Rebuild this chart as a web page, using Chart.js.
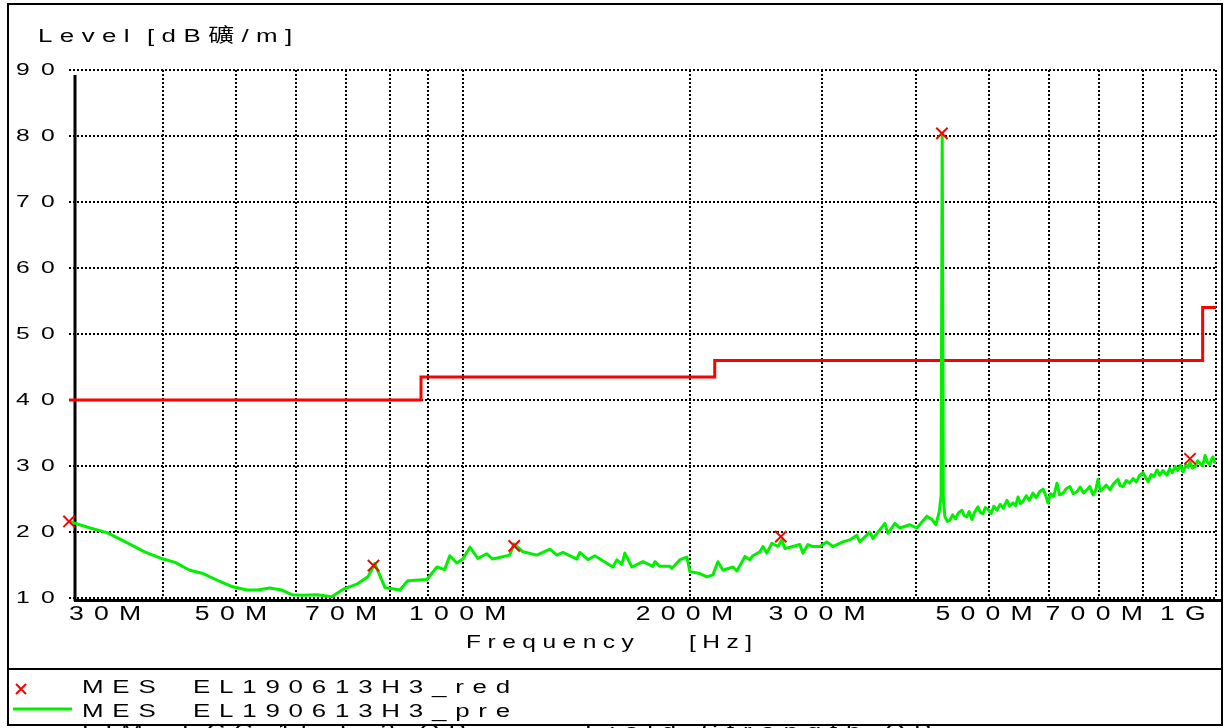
<!DOCTYPE html>
<html><head><meta charset="utf-8">
<script src="https://cdn.jsdelivr.net/npm/chart.js@4/dist/chart.umd.min.js"></script>
<style>html,body{margin:0;padding:0;background:#fff;overflow:hidden}#wrap{width:1226px;height:728px}</style>
</head><body><div id="wrap"><canvas id="c" width="1226" height="728"></canvas></div>
<script>
// ---------- data (frequency in MHz, level in dBuV/m) ----------
const tracePoints = [
 [30.0,21.6],[32.0,20.6],[33.7,19.9],[35.8,18.4],[37.8,17.0],[40.0,15.9],[41.5,15.4],[43.4,14.2],[45.2,13.7],[47.6,12.5],
 [49.5,11.7],[51.7,11.2],[53.4,11.2],[55.4,11.5],[57.5,11.2],[59.3,10.5],[61.3,10.4],[64.0,10.5],[67.0,10.2],[69.3,11.3],
 [72.3,12.1],[74.8,13.2],[76.4,15.2],[78.8,11.6],[82.5,11.2],[84.5,12.6],[89.6,12.8],[92.4,14.7],[94.6,14.3],[96.1,16.4],
 [98.2,15.3],[100.0,15.9],[102.2,17.7],[104.7,16.0],[107.6,16.7],[109.6,15.9],[115.4,16.5],[116.9,18.2],[120.2,17.0],[125.4,16.5],
 [130.5,17.4],[133.3,16.5],[135.8,16.9],[141.7,15.9],[143.0,16.9],[146.6,15.8],[149.7,16.4],[158.2,14.7],[160.2,15.8],[162.6,15.1],
 [164.1,16.8],[167.7,14.7],[173.4,15.5],[178.8,14.8],[179.9,15.5],[182.7,14.8],[188.3,14.8],[189.5,14.5],[194.2,15.8],[198.4,16.2],
 [200.2,14.0],[206.4,13.7],[210.9,13.2],[214.8,13.5],[218.1,15.5],[221.5,14.2],[228.4,14.7],[231.2,14.1],[236.9,16.3],[240.5,15.8],
 [242.7,16.4],[248.0,17.0],[250.3,17.8],[253.3,16.8],[257.3,18.3],[262.0,17.8],[265.2,18.8],[267.7,17.5],[274.3,17.8],[280.2,18.1],
 [282.8,16.8],[287.2,18.1],[291.6,17.8],[297.9,17.8],[304.3,18.5],[309.9,17.8],[319.5,18.5],[326.4,18.8],[333.5,19.5],[336.6,18.5],
 [347.0,20.0],[350.3,19.0],[363.4,21.3],[366.8,19.8],[374.7,21.3],[380.4,20.6],[392.2,21.1],[400.7,20.6],[413.2,22.4],[419.6,21.9],
 [424.8,21.1],[429.0,23.0],[431.5,25.5],[433.0,80.4],[434.5,25.0],[436.6,22.3],[440,21.6],[443.4,21.8],[447,22.6],[451,22.0],
 [455,22.9],[459.9,23.3],[463,22.5],[467,22.3],[470,23.1],[474.2,21.9],[478,23.0],[483,23.8],[487,22.9],[490.5,22.8],
 [494,23.7],[498,23.4],[503,22.8],[507,23.9],[512,23.3],[517,24.2],[522,23.6],[527.9,24.8],[532,23.9],[537.7,24.4],
 [542,24.0],[546,25.3],[550,24.3],[554.4,24.7],[560,25.5],[565,24.8],[571.5,25.9],[577,25.2],[583,26.1],[589.3,26.5],
 [594,25.6],[598.4,24.4],[603,25.8],[609,25.4],[615,27.4],[620,25.6],[626.4,25.9],[633,26.6],[640,26.9],[646,25.8],
 [653.8,26.1],[660,26.8],[667,25.9],[674.2,26.4],[680,26.9],[686.7,25.6],[692,26.3],[697.3,28.0],[702,26.2],[708,26.6],
 [715,27.1],[723.3,26.4],[731,27.3],[741.3,28.0],[746,27.0],[752.7,26.9],[760,27.8],[768,27.4],[776.1,28.1],[784,27.6],
 [792,28.6],[800.2,29.0],[806,28.3],[812.5,27.6],[820,28.7],[827,28.4],[835,29.4],[842,28.6],[850,29.3],[861,28.6],
 [868,29.6],[875,29.0],[882.4,29.9],[890,29.3],[897,30.1],[904.3,29.1],[912,30.2],[918,29.8],[923.9,30.6],[930,29.7],
 [938.1,29.9],[945,30.8],[952.4,30.4],[960,30.0],[967.2,31.6],[975,30.5],[981.8,30.2],[986,31.0],[990.8,31.4],[995,30.6],
 [1000,30.5]
];
const limitFreqMHz = [30, 88, 216, 960, 1000];
const limitLevel = [40, 43.5, 46, 54, 54];
const finalFreqMHz = [30.0, 76.1, 117.0, 264.4, 432.6, 923.6];
const finalLevel = [21.6, 14.9, 17.9, 19.3, 80.4, 31.1];
const xGridValues = [30,40,50,60,70,80,90,100,200,300,400,500,600,700,800,900,1000];
const xLabelValues = [30,50,70,100,200,300,500,700,1000];
const xLabelTexts = ['30M','50M','70M','100M','200M','300M','500M','700M','1G'];
const yTickValues = [10,20,30,40,50,60,70,80,90];
const legendRows = [['MES','EL190613H3_red'],['MES','EL190613H3_pre'],['LIM','FCC 15 F 3 QP','Field Strength QP']];
const yTitle = 'Level [dB礦/m]';
const xTitle = 'Frequency [Hz]';

// ---------- text look (wide, spaced glyphs) ----------
const FAMILY = '"Liberation Sans", Arial, "Noto Sans CJK SC", sans-serif';
const textStyles = {17:{sx:1.45,ls:7.8}, 20:{sx:1.33,ls:7.7}};
const canvas = document.getElementById('c');
const ctx2d = canvas.getContext('2d');
const rawFill = ctx2d.fillText.bind(ctx2d);
ctx2d.fillText = function(text, x, y) {
  const m = /(\d+(?:\.\d+)?)px/.exec(this.font);
  const st = m && textStyles[Math.round(parseFloat(m[1]))];
  if (!st) return rawFill(text, x, y);
  this.save();
  this.translate(x, y);
  this.scale(st.sx, 1);
  this.letterSpacing = st.ls + 'px';
  rawFill(text, 0, 0);
  this.restore();
};
function wideText(c, text, x, y, sx, ls) {
  c.save();
  c.translate(x, y);
  c.scale(sx, 1);
  c.letterSpacing = ls + 'px';
  rawFill(text, 0, 0);
  c.restore();
}

const toXY = (xs, ys) => xs.map((v, i) => ({x: v, y: ys[i]}));

const decorPlugin = {
  id: 'decor',
  beforeDatasetsDraw(chart) {
    const c = chart.ctx, a = chart.chartArea;
    c.save();
    c.strokeStyle = '#000';
    c.lineWidth = 3;
    c.beginPath(); c.moveTo(a.left + 6, a.top + 5); c.lineTo(a.left + 6, a.bottom + 3); c.stroke();
    c.beginPath(); c.moveTo(a.left + 5, a.bottom + 2.5); c.lineTo(1222, a.bottom + 2.5); c.stroke();
    c.restore();
  },
  afterDraw(chart) {
    const c = chart.ctx;
    c.save();
    c.strokeStyle = '#000';
    c.lineWidth = 2;
    c.strokeRect(8, 4, 1214, 721);
    c.beginPath(); c.moveTo(8, 669); c.lineTo(1222, 669); c.stroke();
    c.fillStyle = '#000';
    c.textAlign = 'left'; c.textBaseline = 'alphabetic';
    // axis titles
    c.font = '19.2px ' + FAMILY;
    const yt = yTitle.split(' ');
    wideText(c, yt[0], 38, 42, 1.35, 5.5);
    wideText(c, yt[1], 147, 42, 1.35, 5.5);
    c.font = '18.2px ' + FAMILY;
    const xt = xTitle.split(' ');
    wideText(c, xt[0], 466, 648, 1.35, 4.8);
    wideText(c, xt[1], 689, 648, 1.35, 4.8);
    // legend symbols
    c.strokeStyle = '#ff0000'; c.lineWidth = 2;
    c.beginPath(); c.moveTo(16, 684); c.lineTo(26, 694); c.moveTo(26, 684); c.lineTo(16, 694); c.stroke();
    c.strokeStyle = '#00f000'; c.lineWidth = 3;
    c.beginPath(); c.moveTo(13, 709); c.lineTo(72, 709); c.stroke();
    // legend text
    c.font = '19.2px ' + FAMILY;
    const cols = [[82, 193], [82, 193], [82, 182, 585]];
    const base = [693, 717, 737];
    legendRows.forEach((row, r) => row.forEach((t, k) => wideText(c, t, cols[r][k], base[r], 1.35, 6.5)));
    c.restore();
  }
};

new Chart(canvas, {
  type: 'line',
  data: {
    datasets: [
      {label: 'MES EL190613H3_red', data: toXY(finalFreqMHz, finalLevel), showLine: false,
       pointStyle: 'crossRot', pointRadius: 8, pointBorderWidth: 2, borderColor: '#ff0000', backgroundColor: '#ff0000', order: 0, clip: false},
      {label: 'MES EL190613H3_pre', data: tracePoints.map(p => ({x: p[0], y: p[1]})), borderColor: '#00f000',
       borderWidth: 3, pointRadius: 0, tension: 0, order: 1, borderJoinStyle: 'round'},
      {label: 'LIM FCC 15 F 3 QP Field Strength QP', data: toXY(limitFreqMHz, limitLevel), stepped: 'before',
       borderColor: '#ff0000', borderWidth: 3, pointRadius: 0, order: 2}
    ]
  },
  options: {
    responsive: false,
    animation: false,
    devicePixelRatio: 1,
    layout: {padding: {left: 8, right: 10, top: 70, bottom: 98}},
    plugins: {legend: {display: false}, tooltip: {enabled: false}, title: {display: false}},
    scales: {
      x: {
        type: 'logarithmic', min: 30, max: 1000,
        afterBuildTicks: s => { s.ticks = xGridValues.map(v => ({value: v})); },
        afterFit: s => { s.height = 32; },
        ticks: {
          autoSkip: false, maxRotation: 0, align: 'inner', padding: 4, color: '#000',
          font: {size: 20, family: FAMILY},
          callback: v => { const i = xLabelValues.indexOf(v); return i >= 0 ? xLabelTexts[i] : ''; }
        },
        grid: {drawTicks: false, lineWidth: 2, color: c => (c.tick && c.tick.value === 30) ? 'rgba(0,0,0,0)' : '#000'},
        border: {display: false, dash: [2, 2]},
        title: {display: false, text: xTitle}
      },
      y: {
        min: 10, max: 90,
        afterBuildTicks: s => { s.ticks = yTickValues.map(v => ({value: v})); },
        afterFit: s => { s.width = 61; },
        ticks: {padding: 3, color: '#000', font: {size: 17, family: FAMILY}},
        grid: {drawTicks: false, lineWidth: 2, color: '#000'},
        border: {display: false, dash: [2, 2]},
        title: {display: false, text: yTitle}
      }
    }
  },
  plugins: [decorPlugin]
});
</script>
</body></html>
